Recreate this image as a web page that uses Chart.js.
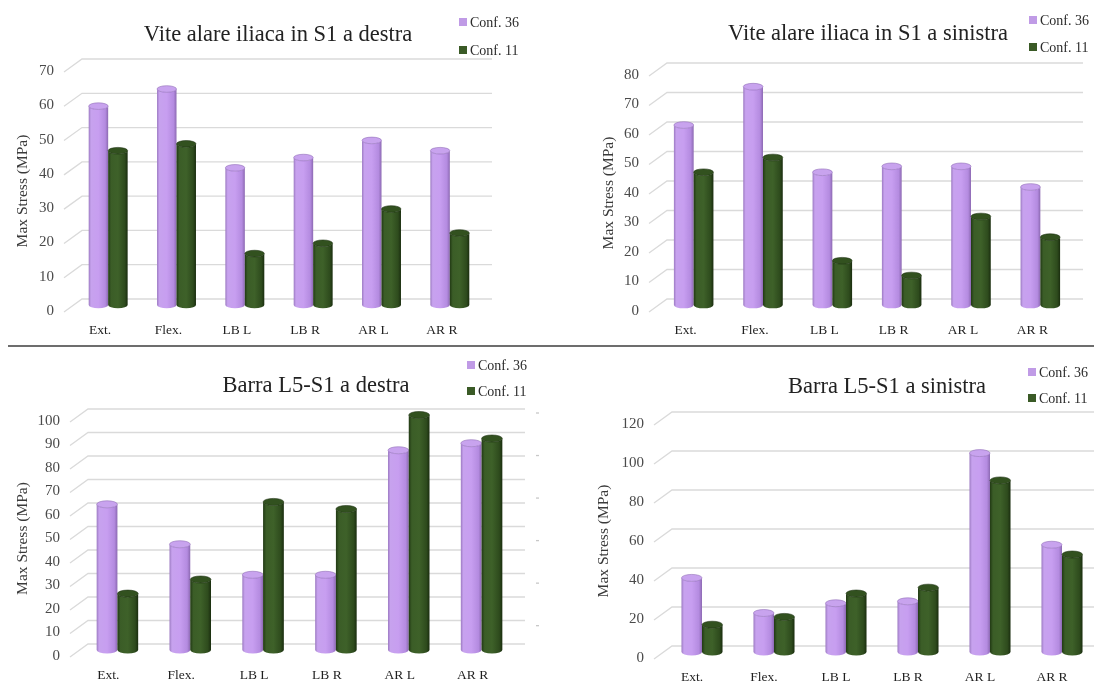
<!DOCTYPE html>
<html>
<head>
<meta charset="utf-8">
<title>Max Stress</title>
<script src="https://cdn.jsdelivr.net/npm/chart.js@4.4.1/dist/chart.umd.min.js"></script>
<style>
  html, body { margin: 0; padding: 0; background: #fff; }
  body { width: 1094px; height: 682px; position: relative; overflow: hidden; }
  canvas { position: absolute; }
  #sep { position: absolute; left: 8px; top: 345px; width: 1086px; height: 2px; background: #6d6d6d; }
</style>
</head>
<body>
<canvas id="c1" width="547" height="345" style="left:0;top:0"></canvas>
<canvas id="c2" width="547" height="345" style="left:547px;top:0"></canvas>
<div id="sep"></div>
<canvas id="c3" width="547" height="334" style="left:0;top:348px"></canvas>
<canvas id="c4" width="547" height="334" style="left:547px;top:348px"></canvas>
<script>
const categories = ['Ext.', 'Flex.', 'LB L', 'LB R', 'AR L', 'AR R'];
const seriesNames = ['Conf. 36', 'Conf. 11'];

const viteDestra36 = [58, 63, 40, 43, 48, 45];
const viteDestra11 = [45, 47, 15, 18, 28, 21];
const viteSinistra36 = [61, 74, 45, 47, 47, 40];
const viteSinistra11 = [45, 50, 15, 10, 30, 23];
const barraDestra36 = [62, 45, 32, 32, 85, 88];
const barraDestra11 = [24, 30, 63, 60, 100, 90];
const barraSinistra36 = [38, 20, 25, 26, 102, 55];
const barraSinistra11 = [14, 18, 30, 33, 88, 50];

const SERIF = '"Liberation Serif", "Times New Roman", serif';

const purple = {
  key: '#c09be6',
  body: [[0, '#9c7ac2'], [0.12, '#c7a2ee'], [0.5, '#c79ef0'], [0.85, '#b48be0'], [1, '#8c69b2']],
  top: '#c8a3ee', rim: 'rgba(140,105,180,0.7)'
};
const green = {
  key: '#3a5a26',
  body: [[0, '#213914'], [0.15, '#3b5d27'], [0.5, '#3e6129'], [0.85, '#2e4b1d'], [1, '#1a2d0f']],
  top: '#32511f', rim: 'rgba(25,45,14,0.7)'
};

function drawCylinder(ctx, x, top, base, w, shade) {
  const rx = w / 2, ry = w * 0.17;
  const l = x - rx, r = x + rx;
  const g = ctx.createLinearGradient(l, 0, r, 0);
  shade.body.forEach(s => g.addColorStop(s[0], s[1]));
  ctx.fillStyle = g;
  ctx.beginPath();
  ctx.moveTo(l, top);
  ctx.lineTo(l, base);
  ctx.ellipse(x, base, rx, ry, 0, Math.PI, 0, true);
  ctx.lineTo(r, top);
  ctx.ellipse(x, top, rx, ry, 0, 0, Math.PI, false);
  ctx.closePath();
  ctx.fill();
  ctx.beginPath();
  ctx.ellipse(x, top, rx, ry, 0, 0, Math.PI * 2);
  ctx.fillStyle = shade.top;
  ctx.fill();
  ctx.lineWidth = 0.8;
  ctx.strokeStyle = shade.rim;
  ctx.stroke();
}

// 3D look: back-wall grid with diagonal floor ticks, cylinders, title and legend
const cylinders = {
  id: 'cylinders',
  beforeDatasetsDraw(chart, args, o) {
    const {ctx, chartArea: a, scales: {y}} = chart;
    ctx.save();
    ctx.strokeStyle = '#dadada';
    ctx.lineWidth = 1.3;
    y.ticks.forEach(t => {
      const py = y.getPixelForValue(t.value);
      ctx.beginPath();
      ctx.moveTo(a.left - 2, py + 1);
      ctx.lineTo(a.left + o.gdx, py - o.gdy);
      ctx.lineTo(a.right + o.gdx, py - o.gdy);
      ctx.stroke();
    });
    if (o.sideMarks) {
      ctx.strokeStyle = '#c8c8c8';
      const step = (a.bottom - a.top) * 0.181;
      for (let i = 0; i < 6; i++) {
        const py = a.top - 8 + i * step;
        ctx.beginPath();
        ctx.moveTo(a.right + o.gdx + 11, py);
        ctx.lineTo(a.right + o.gdx + 14, py);
        ctx.stroke();
      }
    }
    ctx.restore();
  },
  afterDatasetsDraw(chart, args, o) {
    const ctx = chart.ctx;
    ctx.save();
    const n = chart.data.labels.length;
    for (let i = 0; i < n; i++) {
      chart.data.datasets.forEach((ds, d) => {
        const el = chart.getDatasetMeta(d).data[i];
        drawCylinder(ctx, el.x + o.bdx, el.y - o.bdy, el.base - o.bdy, el.width, ds.shade);
      });
    }
    ctx.restore();
  },
  afterDraw(chart, args, o) {
    const ctx = chart.ctx;
    ctx.save();
    ctx.fillStyle = '#222';
    ctx.font = '22.5px ' + SERIF;
    ctx.textAlign = 'center';
    ctx.textBaseline = 'middle';
    ctx.fillText(o.title, o.titleX, o.titleY);
    ctx.font = '14px ' + SERIF;
    ctx.textAlign = 'left';
    chart.data.datasets.forEach((ds, d) => {
      const cy = o.legendY[d];
      ctx.fillStyle = ds.shade.key;
      ctx.fillRect(o.legendX, cy - 4, 8, 8);
      ctx.fillStyle = '#2b2b2b';
      ctx.fillText(ds.label, o.legendX + 11, cy + 1);
    });
    ctx.restore();
  }
};

function makeChart(id, a, b, p) {
  return new Chart(document.getElementById(id), {
    type: 'bar',
    data: {
      labels: categories,
      datasets: [
        { label: seriesNames[0], data: a, shade: purple, backgroundColor: 'rgba(0,0,0,0)', borderWidth: 0,
          categoryPercentage: p.cp, barPercentage: 1 },
        { label: seriesNames[1], data: b, shade: green, backgroundColor: 'rgba(0,0,0,0)', borderWidth: 0,
          categoryPercentage: p.cp, barPercentage: 1 }
      ]
    },
    options: {
      responsive: false,
      animation: false,
      layout: { padding: p.pad },
      plugins: {
        legend: { display: false },
        tooltip: { enabled: false },
        cylinders: {
          gdx: 16, gdy: 12, bdx: p.bdx, bdy: 6,
          title: p.title, titleX: p.titleX, titleY: p.titleY,
          legendX: p.legendX, legendY: p.legendY, sideMarks: !!p.sideMarks
        }
      },
      scales: {
        x: {
          grid: { display: false, drawTicks: false },
          border: { display: false },
          ticks: { color: '#1f1f1f', font: { family: SERIF, size: 13.5 }, padding: 11 },
          afterFit(s) { s.height = p.xh; }
        },
        y: {
          min: 0, max: p.max,
          grid: { display: false, drawTicks: false },
          border: { display: false },
          ticks: { stepSize: p.step, color: '#4a4a4a', font: { family: SERIF, size: 15 }, padding: 12 },
          title: { display: true, text: 'Max Stress (MPa)', color: '#3a3a3a',
                   font: { family: SERIF, size: 15.5 }, padding: 0 },
          afterFit(s) { s.width = p.yw; }
        }
      }
    },
    plugins: [cylinders]
  });
}

makeChart('c1', viteDestra36, viteDestra11, {
  title: 'Vite alare iliaca in S1 a destra', titleX: 278, titleY: 35,
  legendX: 459, legendY: [22, 50],
  pad: { left: 14, right: 71, top: 71, bottom: 8 }, yw: 52, xh: 26,
  max: 70, step: 10, bdx: 8, cp: 0.57
});
makeChart('c2', viteSinistra36, viteSinistra11, {
  title: 'Vite alare iliaca in S1 a sinistra', titleX: 321, titleY: 34,
  legendX: 482, legendY: [20, 47],
  pad: { left: 53, right: 27, top: 75, bottom: 8 }, yw: 51, xh: 26,
  max: 80, step: 10, bdx: 8, cp: 0.57
});
makeChart('c3', barraDestra36, barraDestra11, {
  title: 'Barra L5-S1 a destra', titleX: 316, titleY: 38,
  legendX: 467, legendY: [17, 43],
  pad: { left: 14, right: 38, top: 73, bottom: 0 }, yw: 58, xh: 26,
  max: 100, step: 10, bdx: 9, cp: 0.57, sideMarks: true
});
makeChart('c4', barraSinistra36, barraSinistra11, {
  title: 'Barra L5-S1 a sinistra', titleX: 340, titleY: 39,
  legendX: 481, legendY: [24, 50],
  pad: { left: 48, right: 6, top: 76, bottom: 0 }, yw: 61, xh: 24,
  max: 120, step: 20, bdx: 10, cp: 0.57
});
</script>
</body>
</html>
